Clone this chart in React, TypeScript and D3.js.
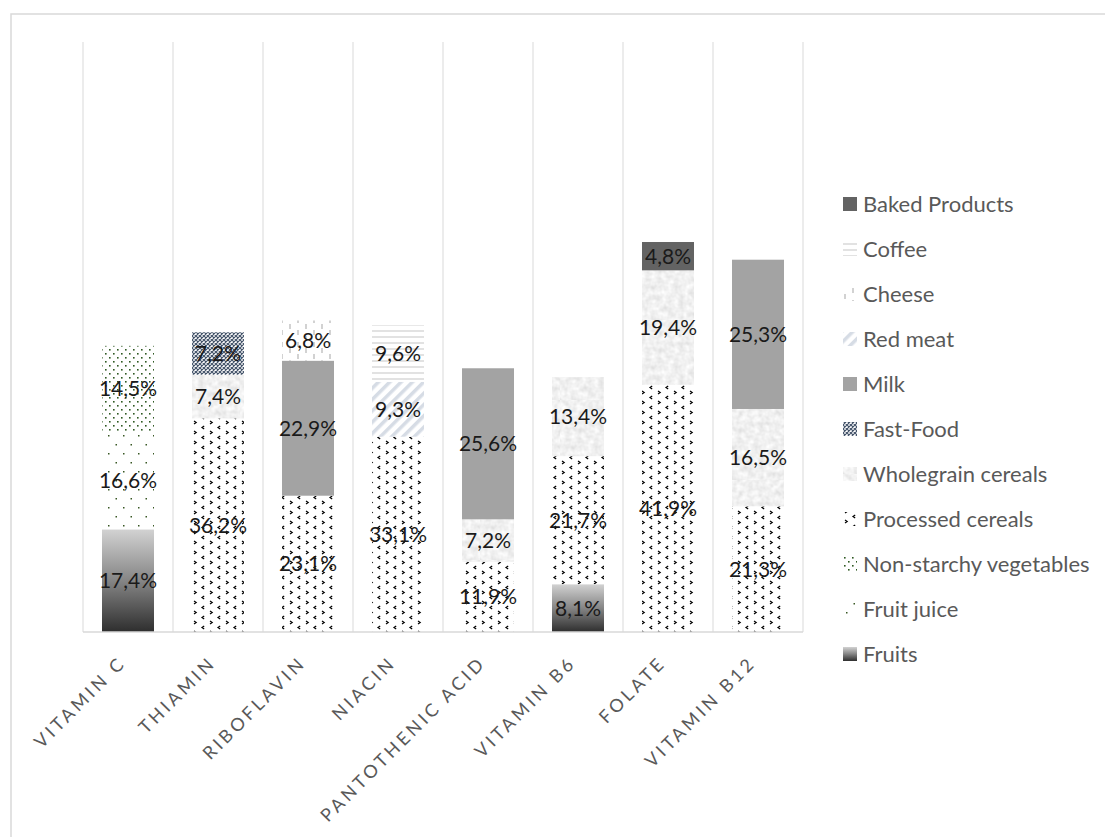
import React from 'react';
import * as d3 from 'd3';

const categories = ['VITAMIN C', 'THIAMIN', 'RIBOFLAVIN', 'NIACIN', 'PANTOTHENIC ACID', 'VITAMIN B6', 'FOLATE', 'VITAMIN B12'];
const seriesNames = ['Fruits', 'Fruit juice', 'Non-starchy vegetables', 'Processed cereals', 'Wholegrain cereals', 'Fast-Food', 'Milk', 'Red meat', 'Cheese', 'Coffee', 'Baked Products'];

const fruits = [17.4, 0, 0, 0, 0, 8.1, 0, 0];
const fruitJuice = [16.6, 0, 0, 0, 0, 0, 0, 0];
const nonStarchyVegetables = [14.5, 0, 0, 0, 0, 0, 0, 0];
const processedCereals = [0, 36.2, 23.1, 33.1, 11.9, 21.7, 41.9, 21.3];
const wholegrainCereals = [0, 7.4, 0, 0, 7.2, 13.4, 19.4, 16.5];
const fastFood = [0, 7.2, 0, 0, 0, 0, 0, 0];
const milk = [0, 0, 22.9, 0, 25.6, 0, 0, 25.3];
const redMeat = [0, 0, 0, 9.3, 0, 0, 0, 0];
const cheese = [0, 0, 6.8, 0, 0, 0, 0, 0];
const coffee = [0, 0, 0, 9.6, 0, 0, 0, 0];
const bakedProducts = [0, 0, 0, 0, 0, 0, 4.8, 0];

const seriesValues = [fruits, fruitJuice, nonStarchyVegetables, processedCereals, wholegrainCereals, fastFood, milk, redMeat, cheese, coffee, bakedProducts];
const fills = ['url(#gFruits)', 'url(#pJuice)', 'url(#pVeg)', 'url(#pProc)', 'url(#pWhole)', 'url(#pFast)', '#a3a3a3', 'url(#pMeat)', 'url(#pCheese)', 'url(#pCoffee)', '#636363'];

const FONT = 'Lato, "Open Sans", sans-serif';

export default function App() {
  const rows = categories.map((c, i) => {
    const r: any = { cat: c };
    seriesNames.forEach((s, k) => { r[s] = seriesValues[k][i]; });
    return r;
  });
  const stacked = d3.stack<any>().keys(seriesNames)(rows);

  const x = d3.scaleBand<string>().domain(categories).range([83, 803]).paddingInner(0.4222).paddingOuter(0.2111);
  const y = d3.scaleLinear().domain([0, 100]).range([632, 42]);
  const step = x.step();
  const gridXs = categories.map((c) => (x(c) as number) - (step - x.bandwidth()) / 2).concat([803]);

  const fmt = (v: number) => d3.format('.1f')(v).replace('.', ',') + '%';

  const legendY = d3.scaleLinear().domain([0, 10]).range([204, 654]);
  const legendOrder = seriesNames.map((s, k) => k).reverse();

  return (
    <svg width={1105} height={837} style={{ position: 'absolute', left: 0, top: 0, background: '#fff' }}>
      <defs>
        <linearGradient id="gFruits" x1="0" y1="0" x2="0" y2="1">
          <stop offset="0" stopColor="#d2d2d2" />
          <stop offset="0.5" stopColor="#858585" />
          <stop offset="1" stopColor="#2e2e2e" />
        </linearGradient>
        <pattern id="pJuice" width={15} height={18} patternUnits="userSpaceOnUse">
          <rect width={15} height={18} fill="#fff" />
          <rect x={3} y={3} width={1.5} height={1.5} fill="#385723" />
          <rect x={10.5} y={12} width={1.5} height={1.5} fill="#385723" />
        </pattern>
        <pattern id="pVeg" width={8} height={8} patternUnits="userSpaceOnUse">
          <rect width={8} height={8} fill="#fff" />
          <rect x={1} y={1} width={1.6} height={1.6} fill="#2f5a22" />
          <rect x={5} y={5} width={1.6} height={1.6} fill="#2f5a22" />
        </pattern>
        <pattern id="pProc" width={16} height={10} patternUnits="userSpaceOnUse">
          <rect width={16} height={10} fill="#fff" />
          <path d="M2,1 L4.2,2.5 L2,4" fill="none" stroke="#000" strokeWidth={1.2} />
          <path d="M12.2,6 L10,7.5 L12.2,9" fill="none" stroke="#000" strokeWidth={1.2} />
        </pattern>
        <filter id="fNoise" x="0" y="0" width="1" height="1">
          <feTurbulence type="fractalNoise" baseFrequency="0.18" numOctaves={2} seed={3} />
          <feColorMatrix type="matrix" values="0.35 0 0 0 0.7  0.35 0 0 0 0.7  0.35 0 0 0 0.7  0 0 0 0 1" />
        </filter>
        <pattern id="pWhole" width={80} height={80} patternUnits="userSpaceOnUse">
          <rect width={80} height={80} fill="#e8e8e8" filter="url(#fNoise)" />
        </pattern>
        <pattern id="pFast" width={4} height={4} patternUnits="userSpaceOnUse">
          <rect width={4} height={4} fill="#fff" />
          <path d="M0,0L4,4M4,0L0,4" stroke="#44546a" strokeWidth={1.2} />
        </pattern>
        <pattern id="pMeat" width={8} height={8} patternUnits="userSpaceOnUse" patternTransform="rotate(45)">
          <rect width={8} height={8} fill="#fff" />
          <rect width={3.5} height={8} fill="#d6dce5" />
        </pattern>
        <pattern id="pCheese" width={16} height={12} patternUnits="userSpaceOnUse">
          <rect width={16} height={12} fill="#fff" />
          <path d="M2,0V5M10,6V11" stroke="#a6a6a6" strokeWidth={1} />
        </pattern>
        <pattern id="pCoffee" width={10} height={6} patternUnits="userSpaceOnUse">
          <rect width={10} height={6} fill="#fff" />
          <path d="M0,1H10" stroke="#d9d9d9" strokeWidth={1.5} />
        </pattern>
      </defs>

      <rect x={11} y={14} width={1200} height={900} fill="#fff" stroke="#d9d9d9" strokeWidth={1.5} />

      {gridXs.map((gx, i) => (
        <line key={i} x1={gx} x2={gx} y1={y(100)} y2={y(0)} stroke="#d9d9d9" strokeWidth={1} />
      ))}

      {stacked.map((layer, k) => (
        <g key={layer.key}>
          {layer.map((d, i) => {
            const v = d[1] - d[0];
            if (v <= 0) return null;
            return (
              <rect key={i} x={x(categories[i])} y={y(d[1])} width={x.bandwidth()} height={y(d[0]) - y(d[1])} fill={fills[k]} />
            );
          })}
        </g>
      ))}

      <line x1={83} x2={803} y1={y(0)} y2={y(0)} stroke="#d9d9d9" strokeWidth={1.5} />

      {stacked.map((layer) => (
        <g key={'l' + layer.key}>
          {layer.map((d, i) => {
            const v = d[1] - d[0];
            if (v <= 0) return null;
            return (
              <text key={i} x={(x(categories[i]) as number) + x.bandwidth() / 2} y={y((d[0] + d[1]) / 2)} dy="0.36em"
                textAnchor="middle" fontFamily={FONT} fontSize={21} fill="#1a1a1a">{fmt(v)}</text>
            );
          })}
        </g>
      ))}

      {categories.map((c) => {
        const cx = (x(c) as number) + x.bandwidth() / 2;
        return (
          <text key={c} transform={`translate(${cx - 1},${664}) rotate(-45)`} textAnchor="end" fontFamily={FONT}
            fontSize={18} letterSpacing={3.3} fill="#595959">{c}</text>
        );
      })}

      {legendOrder.map((k, j) => (
        <g key={seriesNames[k]} transform={`translate(843,${legendY(j)})`}>
          <rect x={0} y={-7} width={14} height={14} fill={fills[k]} />
          <text x={20} y={0} dy="0.36em" fontFamily={FONT} fontSize={22} fill="#595959">{seriesNames[k]}</text>
        </g>
      ))}
    </svg>
  );
}
